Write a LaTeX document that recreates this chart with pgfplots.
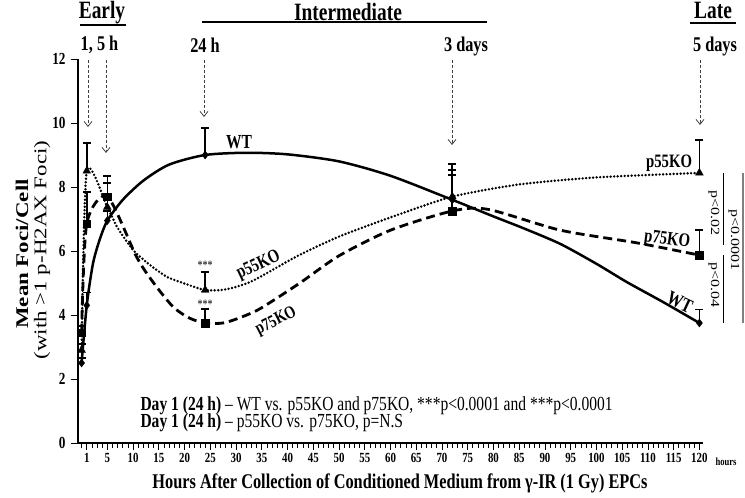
\documentclass[border=0pt]{standalone}
\usepackage{fontspec}
\setmainfont{Liberation Serif}[FakeStretch=0.78]
\usepackage{graphicx}
\usepackage{pgfplots}
\pgfplotsset{compat=1.18}
\usetikzlibrary{arrows.meta}

\pgfplotstableread{
x y e
0 2.5 0.15
1 4.3 0.4
5 6.95 0.3
24 9.0 0.84
72 7.6 0.78
120 3.75 0.42
}\wtpts
\pgfplotstableread{
x y e
0 2.9 0.2
1 8.5 0.87
5 7.37 0.75
24 4.78 0.56
72 7.7 1.02
120 8.44 1.03
}\ppfivepts
\pgfplotstableread{
x y e
0 3.45 0.2
1 6.85 1.0
5 7.7 0.65
24 3.75 0.44
72 7.25 1.28
120 5.87 0.78
}\ppsevenpts

\begin{document}
\begin{tikzpicture}
\useasboundingbox (-78bp,-55bp) rectangle (667bp,443bp);
\begin{axis}[
  at={(0,0)}, anchor=south west,
  scale only axis, width=625bp, height=384bp,
  xmin=-0.7, xmax=120.7, ymin=0, ymax=12,
  axis x line*=bottom, axis y line*=left,
  axis line style={line width=1.2bp, -},
  clip=false,
  xtick={1,5,10,15,20,25,30,35,40,45,50,55,60,65,70,75,80,85,90,95,100,105,110,115,120},
  minor xtick={0,1,...,120},
  ytick={0,2,4,6,8,10,12},
  xtick align=outside, ytick align=outside,
  major tick length=7bp, minor tick length=5bp,
  tick style={black, line width=0.8bp},
  /pgf/number format/assume math mode=true,
  xticklabel style={font=\bfseries\fontsize{14}{14}\selectfont},
  yticklabel style={font=\bfseries\fontsize{17}{17}\selectfont, xshift=-2bp},
]
% smooth lines
\addplot[black, line width=2.5bp, smooth, tension=0.45] coordinates {
(0,2.5) (1,4.3) (2.2,5.6) (3.5,6.35) (5,6.95) (8,7.6) (12,8.2) (17,8.7) (24,9.0) (32,9.07) (40,9.02) (50,8.8) (60,8.35) (72,7.6) (80,7.08) (86,6.7) (93,6.22) (100,5.6) (106,5.02) (113,4.4) (120,3.75)};
\addplot[black, line width=2.7bp, line cap=round, dash pattern=on 0bp off 3.5bp, smooth, tension=0.4] coordinates {
(0,2.9) (1,8.5) (5,7.37) (6.9,6.75) (10,6.03) (13.3,5.56) (16.6,5.19) (19.7,5.0) (24,4.78) (28,4.8) (33,5.05) (42,5.85) (50,6.45) (60,7.05) (72,7.7) (85,8.08) (100,8.3) (120,8.44)};
\addplot[black, line width=2.8bp, dash pattern=on 9bp off 5bp, smooth, tension=0.45] coordinates {
(0,3.45) (1,6.85) (5,7.7) (10.7,5.81) (14,5.0) (17.8,4.25) (21,3.9) (24,3.75) (27.5,3.75) (30.8,3.92) (34.7,4.2) (42.4,5.0) (50,5.85) (60,6.65) (72,7.25) (79,7.3) (93,6.65) (108,6.25) (120,5.87)};
% markers with error bars
\addplot[black, only marks, mark=diamond*, mark size=4bp,
  error bars/.cd, y dir=plus, y explicit,
  error bar style={line width=1.6bp},
  error mark options={rotate=90, mark size=4bp, line width=1.6bp}]
  table[x=x, y=y, y error=e] {\wtpts};
\addplot[black, only marks, mark=triangle*, mark size=4.5bp,
  error bars/.cd, y dir=plus, y explicit,
  error bar style={line width=1.6bp},
  error mark options={rotate=90, mark size=4bp, line width=1.6bp}]
  table[x=x, y=y, y error=e] {\ppfivepts};
\addplot[black, only marks, mark=square*, mark size=3.8bp,
  error bars/.cd, y dir=plus, y explicit,
  error bar style={line width=1.6bp},
  error mark options={rotate=90, mark size=4bp, line width=1.6bp}]
  table[x=x, y=y, y error=e] {\ppsevenpts};
% curve labels
\node[font=\bfseries\fontsize{20}{20}\selectfont] at (axis cs:30.6,9.4) {WT};
\node[font=\bfseries\fontsize{19}{19}\selectfont] at (axis cs:114.1,8.75) {p55KO};
\node[font=\bfseries\fontsize{19}{19}\selectfont, rotate=-8] at (axis cs:113.7,6.34) {p75KO};
\node[font=\bfseries\fontsize{20}{20}\selectfont, rotate=-25] at (axis cs:116.2,4.4) {WT};
\node[font=\bfseries\fontsize{19}{19}\selectfont, rotate=25, inner sep=0pt] at (axis cs:34.4,5.55) {p55KO};
\node[font=\bfseries\fontsize{18}{18}\selectfont, rotate=27, inner sep=0pt] at (axis cs:37.8,3.8) {p75KO};
\node[font=\fontsize{13}{13}\selectfont] at (axis cs:24,5.55) {***};
\node[font=\fontsize{13}{13}\selectfont] at (axis cs:24,4.35) {***};
\end{axis}
% hours unit after the last tick label
\node[font=\bfseries\fontsize{11}{11}\selectfont] at (648bp,-19bp) {hours};
% axis titles (main font is condensed; undo the condensing along the text, squash the glyph height)
\node[rotate=90] at (-56bp,189bp) {\scalebox{1.282}[0.78]{\bfseries\fontsize{23}{23}\selectfont Mean Foci/Cell}};
\node[rotate=90] at (-36bp,193bp) {\scalebox{1.282}[0.78]{\fontsize{23}{23}\selectfont (with >1 p-H2AX Foci)}};
\node[font=\bfseries\fontsize{21}{21}\selectfont] at (322bp,-40bp) {Hours After Collection of Conditioned Medium from γ-IR (1 Gy) EPCs};
% phase headers
\node[font=\bfseries\fontsize{25}{25}\selectfont] at (24bp,430bp) {Early};
\draw[line width=1.2bp] (2bp,418bp) -- (48bp,418bp);
\node[font=\bfseries\fontsize{25}{25}\selectfont] at (270bp,431bp) {Intermediate};
\draw[line width=1.2bp] (124bp,421bp) -- (409bp,421bp);
\node[font=\bfseries\fontsize{25}{25}\selectfont] at (635bp,433bp) {Late};
\draw[line width=1.2bp] (612bp,420bp) -- (658bp,420bp);
% time labels
\node[font=\bfseries\fontsize{21}{21}\selectfont] at (21.5bp,398bp) {1, 5 h};
\node[font=\bfseries\fontsize{21}{21}\selectfont] at (127bp,398bp) {24 h};
\node[font=\bfseries\fontsize{21}{21}\selectfont] at (388bp,396bp) {3 days};
\node[font=\bfseries\fontsize{21}{21}\selectfont] at (637bp,396bp) {5 days};
% arrows
\begin{scope}[densely dashed, black!75, line width=0.8bp, -{Straight Barb[length=5bp, width=8bp]}]
\draw (10bp,383bp) -- (10bp,316bp);
\draw (28bp,383bp) -- (28bp,290bp);
\draw (126bp,383bp) -- (126bp,326bp);
\draw (374bp,383bp) -- (374bp,298bp);
\draw (622bp,383bp) -- (622bp,318bp);
\end{scope}
% significance brackets
\draw[line width=0.9bp] (645bp,270bp) -- (645bp,198bp);
\draw[line width=0.9bp] (645bp,188bp) -- (645bp,120bp);
\draw[line width=1.5bp, gray] (665bp,270bp) -- (665bp,120bp);
\node[rotate=-90] at (636bp,230bp) {\scalebox{1.282}[0.78]{\fontsize{16}{16}\selectfont p<0.02}};
\node[rotate=-90] at (636bp,158bp) {\scalebox{1.282}[0.78]{\fontsize{16}{16}\selectfont p<0.04}};
\node[rotate=-90] at (656bp,203bp) {\scalebox{1.282}[0.78]{\fontsize{16}{16}\selectfont p<0.0001}};
% footnote text
\node[anchor=base west, font=\fontsize{20}{20}\selectfont] at (59bp,33bp) {\textbf{Day 1 (24 h)} -- WT vs. p55KO and p75KO, ***p<0.0001 and ***p<0.0001};
\node[anchor=base west, font=\fontsize{20}{20}\selectfont] at (59bp,16bp) {\textbf{Day 1 (24 h)} -- p55KO vs. p75KO, p=N.S};
\end{tikzpicture}
\end{document}
